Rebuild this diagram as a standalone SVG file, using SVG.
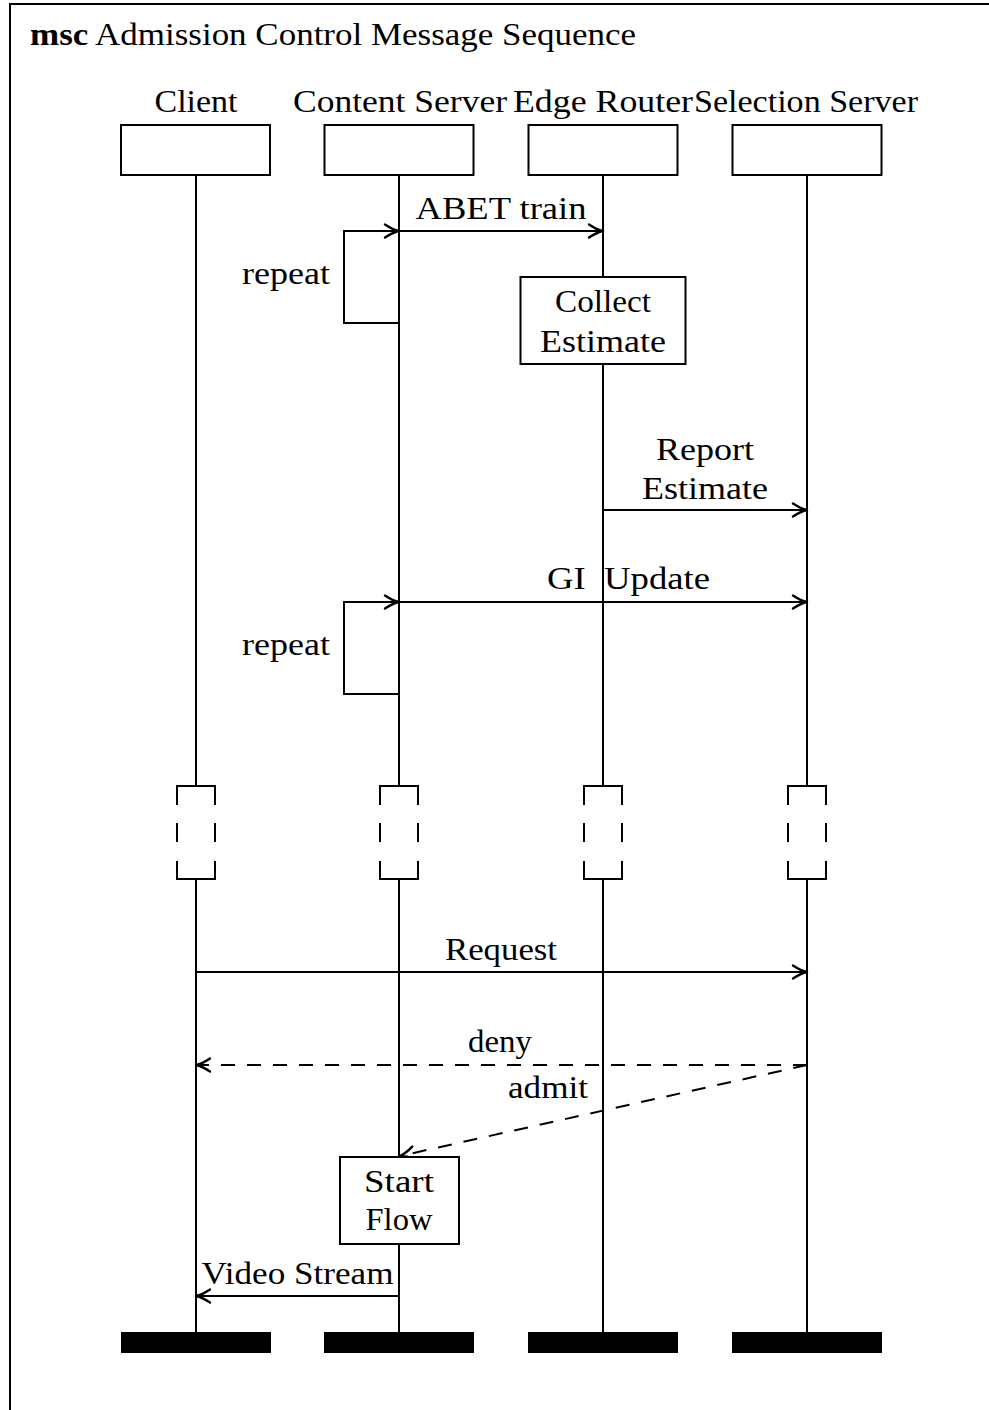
<svg xmlns="http://www.w3.org/2000/svg" width="989" height="1410" viewBox="0 0 989 1410">
<style>
text{font-family:"Liberation Serif","Times New Roman",serif;font-size:31px;fill:#000}
.c{text-anchor:middle}
.ln{fill:none;stroke:#000;stroke-width:2}
.box{fill:#fff;stroke:#000;stroke-width:2}
.bar{fill:#000;stroke:none}
.msg{fill:none;stroke:#000;stroke-width:2;marker-end:url(#arr)}
.dash{stroke-dasharray:14 12}
</style>
<defs>
<marker id="arr" markerUnits="userSpaceOnUse" viewBox="-16 -9 19 18" refX="0" refY="0" markerWidth="19" markerHeight="18" orient="auto" overflow="visible">
<path d="M-14,-6.5 C-9,-3.2 -4.5,-0.9 0,0 C-4.5,0.9 -9,3.2 -14,6.5" fill="none" stroke="#000" stroke-width="2.4" stroke-linecap="round" stroke-linejoin="round" stroke-dasharray="none"/>
</marker>
</defs>
<rect x="10" y="4" width="1000" height="1440" fill="#fff" stroke="#000" stroke-width="2"/>
<text x="30" y="45" textLength="606" lengthAdjust="spacingAndGlyphs"><tspan font-weight="bold">msc</tspan> Admission Control Message Sequence</text>

<g id="client">
<text class="c" x="196" y="112" textLength="83" lengthAdjust="spacingAndGlyphs">Client</text>
<rect class="box" x="121" y="125" width="149" height="50"/>
<path class="ln" d="M196,175 V786 M196,879 V1333"/>
<path class="ln" d="M177,805 V786 H215 V805 M177,823 V842 M215,823 V842 M177,861 V879 H215 V861"/>
<rect class="bar" x="121" y="1332" width="150" height="21"/>
</g>
<g id="content-server">
<text class="c" x="400" y="112" textLength="214" lengthAdjust="spacingAndGlyphs">Content Server</text>
<rect class="box" x="324.5" y="125" width="149" height="50"/>
<path class="ln" d="M399,175 V786 M399,879 V1333"/>
<path class="ln" d="M380,805 V786 H418 V805 M380,823 V842 M418,823 V842 M380,861 V879 H418 V861"/>
<rect class="bar" x="324" y="1332" width="150" height="21"/>
</g>
<g id="edge-router">
<text class="c" x="603" y="112" textLength="180" lengthAdjust="spacingAndGlyphs">Edge Router</text>
<rect class="box" x="528.5" y="125" width="149" height="50"/>
<path class="ln" d="M603,175 V786 M603,879 V1333"/>
<path class="ln" d="M584,805 V786 H622 V805 M584,823 V842 M622,823 V842 M584,861 V879 H622 V861"/>
<rect class="bar" x="528" y="1332" width="150" height="21"/>
</g>
<g id="selection-server">
<text class="c" x="806" y="112" textLength="224" lengthAdjust="spacingAndGlyphs">Selection Server</text>
<rect class="box" x="732.5" y="125" width="149" height="50"/>
<path class="ln" d="M807,175 V786 M807,879 V1333"/>
<path class="ln" d="M788,805 V786 H826 V805 M788,823 V842 M826,823 V842 M788,861 V879 H826 V861"/>
<rect class="bar" x="732" y="1332" width="150" height="21"/>
</g>

<g id="connectors">
<path class="msg" d="M399,231 H603"/>
<text class="c" x="501" y="219" textLength="171" lengthAdjust="spacingAndGlyphs">ABET train</text>
<path class="msg" d="M399,323 H344 V231 H399"/>
<text class="c" x="286" y="284" textLength="88" lengthAdjust="spacingAndGlyphs">repeat</text>
<path class="msg" d="M603,510 H807"/>
<text class="c" x="705" y="460" textLength="98" lengthAdjust="spacingAndGlyphs">Report</text>
<text class="c" x="705" y="499" textLength="126" lengthAdjust="spacingAndGlyphs">Estimate</text>
<path class="msg" d="M399,602 H807"/>
<text x="547" y="589" textLength="163" lengthAdjust="spacingAndGlyphs" xml:space="preserve" style="white-space:pre">GI  Update</text>
<path class="msg" d="M399,694 H344 V602 H399"/>
<text class="c" x="286" y="655" textLength="88" lengthAdjust="spacingAndGlyphs">repeat</text>
<path class="msg" d="M196,972 H807"/>
<text class="c" x="501" y="960" textLength="112" lengthAdjust="spacingAndGlyphs">Request</text>
<path class="msg dash" d="M807,1065 H196"/>
<text class="c" x="500" y="1052" textLength="64" lengthAdjust="spacingAndGlyphs">deny</text>
<path class="msg dash" d="M807,1065 L400,1156"/>
<text class="c" x="548" y="1098" textLength="80" lengthAdjust="spacingAndGlyphs">admit</text>
<path class="msg" d="M399,1296 H196"/>
<text class="c" x="297.5" y="1284" textLength="192" lengthAdjust="spacingAndGlyphs">Video Stream</text>
</g>

<g id="collect-estimate">
<rect class="box" x="520.5" y="277" width="165" height="87"/>
<text class="c" x="603" y="312" textLength="96" lengthAdjust="spacingAndGlyphs">Collect</text>
<text class="c" x="603" y="352" textLength="126" lengthAdjust="spacingAndGlyphs">Estimate</text>
</g>
<g id="start-flow">
<rect class="box" x="340" y="1157" width="119" height="87"/>
<text class="c" x="399" y="1192" textLength="70" lengthAdjust="spacingAndGlyphs">Start</text>
<text class="c" x="399" y="1230" textLength="67" lengthAdjust="spacingAndGlyphs">Flow</text>
</g>
</svg>
